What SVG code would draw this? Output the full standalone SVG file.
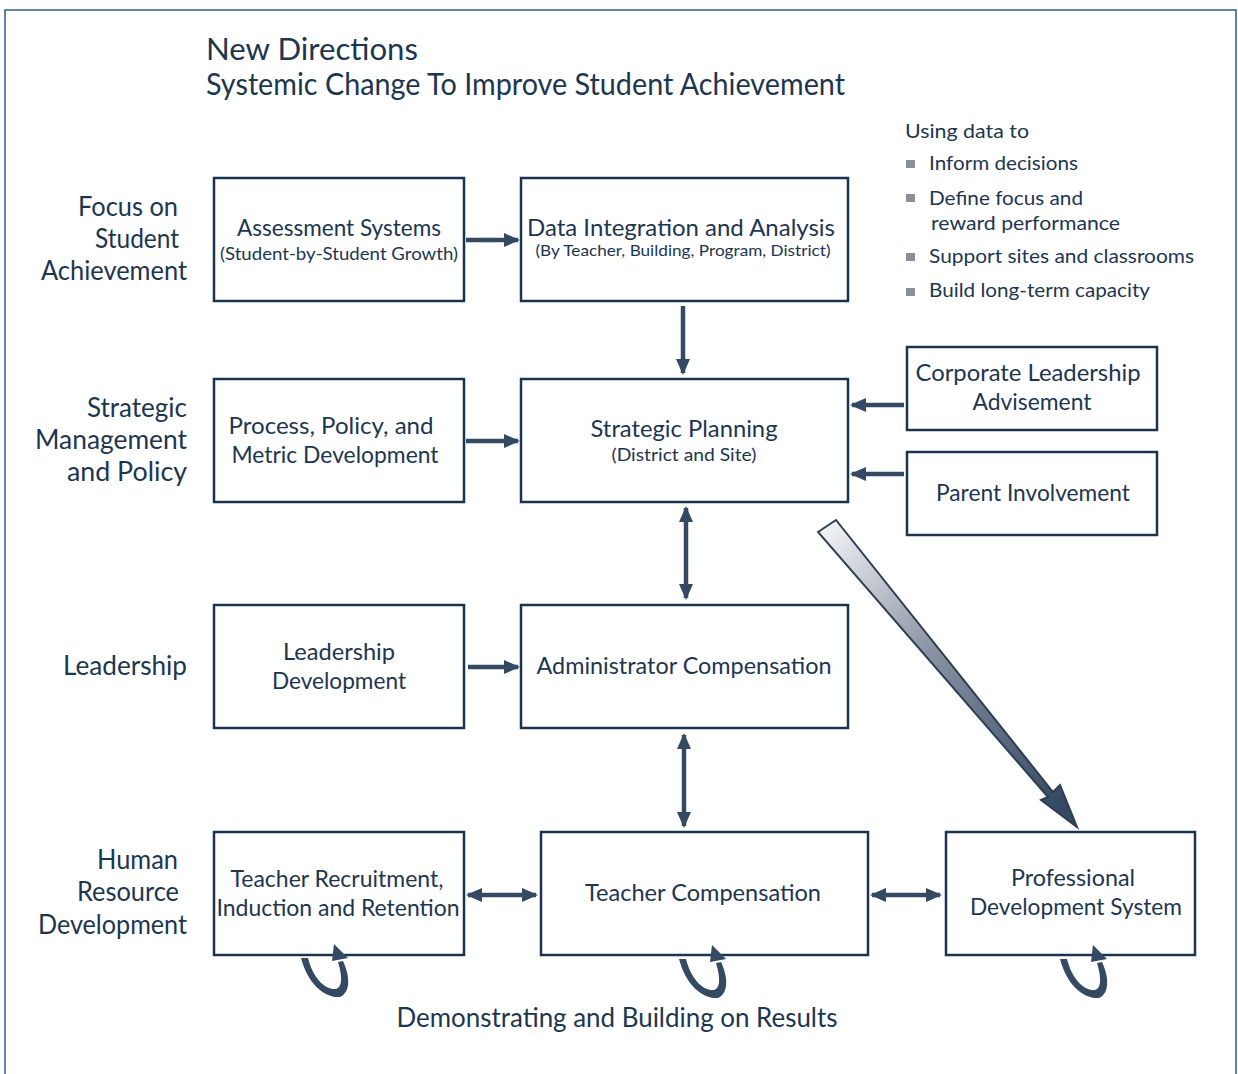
<svg xmlns="http://www.w3.org/2000/svg" width="1238" height="1074" viewBox="0 0 1238 1074">
  <style>
    text { font-family: Lato, "Liberation Sans", sans-serif; fill: #1d3650; }
    .title { font-size: 31px; }
    .side { font-size: 26px; }
    .main { font-size: 23px; }
    .sub { font-size: 18px; }
    .small { font-size: 16px; }
    .list { font-size: 20px; }
    .box { fill: #ffffff; stroke: #1a344f; stroke-width: 2.5; }
    .conn { stroke: #344a62; stroke-width: 4.5; fill: none; }
    .bullet { fill: #8a8f9a; }
    .loop { fill: #344a62; }
  </style>
  <defs>
    <marker id="head" viewBox="0 0 16 14" refX="14" refY="7" markerWidth="16" markerHeight="14" markerUnits="userSpaceOnUse" orient="auto-start-reverse">
      <path d="M0,0 L16,7 L0,14 Z" fill="#344a62"/>
    </marker>
    <linearGradient id="bigArrowFill" gradientUnits="userSpaceOnUse" x1="822" y1="528" x2="1060" y2="805">
      <stop offset="0" stop-color="#f2f3f6"/>
      <stop offset="0.45" stop-color="#8a93a4"/>
      <stop offset="1" stop-color="#344a62"/>
    </linearGradient>
    <!-- circular feedback arrow below a box -->
    <g id="cycle">
      <path class="loop" d="M301,958 C308,984 324,998 340,997 C351,992 350,976 343,961 L338,962 C342,975 343,987 336,989 C325,990 313,978 308,958 Z"/>
      <path class="loop" d="M334,944 L348,958 L332,961 Z"/>
    </g>
  </defs>

  <rect width="1238" height="1074" fill="#ffffff"/>
  <rect x="5" y="10" width="1231" height="1080" fill="none" stroke="#2f5b85" stroke-width="1.5"/>

  <!-- heading -->
  <text class="title" x="206" y="60" textLength="212" lengthAdjust="spacingAndGlyphs">New Directions</text>
  <text class="title" x="206" y="95" textLength="639" lengthAdjust="spacingAndGlyphs">Systemic Change To Improve Student Achievement</text>

  <!-- row labels -->
  <g id="label-focus">
    <text class="side" x="78" y="216" textLength="100" lengthAdjust="spacingAndGlyphs">Focus on</text>
    <text class="side" x="95" y="248" textLength="84" lengthAdjust="spacingAndGlyphs">Student</text>
    <text class="side" x="41" y="280" textLength="146" lengthAdjust="spacingAndGlyphs">Achievement</text>
  </g>
  <g id="label-strategic">
    <text class="side" x="87" y="417" textLength="100" lengthAdjust="spacingAndGlyphs">Strategic</text>
    <text class="side" x="35" y="449" textLength="152" lengthAdjust="spacingAndGlyphs">Management</text>
    <text class="side" x="67" y="481" textLength="120" lengthAdjust="spacingAndGlyphs">and Policy</text>
  </g>
  <g id="label-leadership">
    <text class="side" x="63" y="675" textLength="124" lengthAdjust="spacingAndGlyphs">Leadership</text>
  </g>
  <g id="label-hr">
    <text class="side" x="97" y="869" textLength="81" lengthAdjust="spacingAndGlyphs">Human</text>
    <text class="side" x="77" y="901" textLength="102" lengthAdjust="spacingAndGlyphs">Resource</text>
    <text class="side" x="38" y="934" textLength="149" lengthAdjust="spacingAndGlyphs">Development</text>
  </g>

  <!-- data use list -->
  <g id="data-use">
    <text class="list" x="905" y="138" textLength="124" lengthAdjust="spacingAndGlyphs">Using data to</text>
    <rect class="bullet" x="906" y="160" width="9" height="8"/>
    <text class="list" x="929" y="170" textLength="149" lengthAdjust="spacingAndGlyphs">Inform decisions</text>
    <rect class="bullet" x="906" y="194" width="9" height="8"/>
    <text class="list" x="929" y="205" textLength="154" lengthAdjust="spacingAndGlyphs">Define focus and</text>
    <text class="list" x="931" y="230" textLength="189" lengthAdjust="spacingAndGlyphs">reward performance</text>
    <rect class="bullet" x="906" y="253" width="9" height="8"/>
    <text class="list" x="929" y="263" textLength="265" lengthAdjust="spacingAndGlyphs">Support sites and classrooms</text>
    <rect class="bullet" x="906" y="288" width="9" height="8"/>
    <text class="list" x="929" y="297" textLength="221" lengthAdjust="spacingAndGlyphs">Build long-term capacity</text>
  </g>

  <!-- nodes -->
  <g id="assessment-systems">
    <rect class="box" x="214" y="178" width="250" height="123"/>
    <text class="main" x="339" y="236" text-anchor="middle" textLength="204" lengthAdjust="spacingAndGlyphs">Assessment Systems</text>
    <text class="sub" x="339" y="260" text-anchor="middle" textLength="238" lengthAdjust="spacingAndGlyphs">(Student-by-Student Growth)</text>
  </g>
  <g id="data-integration">
    <rect class="box" x="521" y="178" width="327" height="123"/>
    <text class="main" x="681" y="236" text-anchor="middle" textLength="308" lengthAdjust="spacingAndGlyphs">Data Integration and Analysis</text>
    <text class="small" x="683" y="256" text-anchor="middle" textLength="295" lengthAdjust="spacingAndGlyphs">(By Teacher, Building, Program, District)</text>
  </g>
  <g id="process-policy">
    <rect class="box" x="214" y="379" width="250" height="123"/>
    <text class="main" x="331" y="434" text-anchor="middle" textLength="205" lengthAdjust="spacingAndGlyphs">Process, Policy, and</text>
    <text class="main" x="335" y="463" text-anchor="middle" textLength="207" lengthAdjust="spacingAndGlyphs">Metric Development</text>
  </g>
  <g id="strategic-planning">
    <rect class="box" x="521" y="379" width="327" height="123"/>
    <text class="main" x="684" y="437" text-anchor="middle" textLength="187" lengthAdjust="spacingAndGlyphs">Strategic Planning</text>
    <text class="sub" x="684" y="461" text-anchor="middle" textLength="145" lengthAdjust="spacingAndGlyphs">(District and Site)</text>
  </g>
  <g id="corporate-leadership">
    <rect class="box" x="907" y="347" width="250" height="83"/>
    <text class="main" x="1028" y="381" text-anchor="middle" textLength="225" lengthAdjust="spacingAndGlyphs">Corporate Leadership</text>
    <text class="main" x="1032" y="410" text-anchor="middle" textLength="119" lengthAdjust="spacingAndGlyphs">Advisement</text>
  </g>
  <g id="parent-involvement">
    <rect class="box" x="907" y="452" width="250" height="83"/>
    <text class="main" x="1033" y="501" text-anchor="middle" textLength="194" lengthAdjust="spacingAndGlyphs">Parent Involvement</text>
  </g>
  <g id="leadership-development">
    <rect class="box" x="214" y="605" width="250" height="123"/>
    <text class="main" x="339" y="660" text-anchor="middle" textLength="112" lengthAdjust="spacingAndGlyphs">Leadership</text>
    <text class="main" x="339" y="689" text-anchor="middle" textLength="134" lengthAdjust="spacingAndGlyphs">Development</text>
  </g>
  <g id="administrator-compensation">
    <rect class="box" x="521" y="605" width="327" height="123"/>
    <text class="main" x="684" y="674" text-anchor="middle" textLength="295" lengthAdjust="spacingAndGlyphs">Administrator Compensation</text>
  </g>
  <g id="teacher-recruitment">
    <rect class="box" x="214" y="832" width="250" height="123"/>
    <text class="main" x="337" y="887" text-anchor="middle" textLength="213" lengthAdjust="spacingAndGlyphs">Teacher Recruitment,</text>
    <text class="main" x="338" y="916" text-anchor="middle" textLength="243" lengthAdjust="spacingAndGlyphs">Induction and Retention</text>
  </g>
  <g id="teacher-compensation">
    <rect class="box" x="541" y="832" width="327" height="123"/>
    <text class="main" x="703" y="901" text-anchor="middle" textLength="236" lengthAdjust="spacingAndGlyphs">Teacher Compensation</text>
  </g>
  <g id="professional-development">
    <rect class="box" x="946" y="832" width="249" height="123"/>
    <text class="main" x="1073" y="886" text-anchor="middle" textLength="124" lengthAdjust="spacingAndGlyphs">Professional</text>
    <text class="main" x="1076" y="915" text-anchor="middle" textLength="212" lengthAdjust="spacingAndGlyphs">Development System</text>
  </g>

  <!-- connectors -->
  <g id="connectors">
    <line class="conn" x1="466" y1="240" x2="518" y2="240" marker-end="url(#head)"/>
    <line class="conn" x1="683" y1="306" x2="683" y2="373" marker-end="url(#head)"/>
    <line class="conn" x1="466" y1="441" x2="518" y2="441" marker-end="url(#head)"/>
    <line class="conn" x1="904" y1="405" x2="852" y2="405" marker-end="url(#head)"/>
    <line class="conn" x1="904" y1="474" x2="852" y2="474" marker-end="url(#head)"/>
    <line class="conn" x1="686" y1="508" x2="686" y2="598" marker-start="url(#head)" marker-end="url(#head)"/>
    <line class="conn" x1="468" y1="667" x2="518" y2="667" marker-end="url(#head)"/>
    <line class="conn" x1="684" y1="735" x2="684" y2="826" marker-start="url(#head)" marker-end="url(#head)"/>
    <line class="conn" x1="468" y1="895" x2="536" y2="895" marker-start="url(#head)" marker-end="url(#head)"/>
    <line class="conn" x1="872" y1="895" x2="940" y2="895" marker-start="url(#head)" marker-end="url(#head)"/>
    <!-- tapered arrow toward professional development -->
    <path d="M818,532 L836,520 L1053,792 L1060,785 L1077,827 L1041,800 L1048,797 Z" fill="url(#bigArrowFill)" stroke="#2c3e52" stroke-width="2" stroke-linejoin="miter"/>
    <!-- feedback loops under the bottom row -->
    <use href="#cycle"/>
    <use href="#cycle" transform="translate(378,1)"/>
    <use href="#cycle" transform="translate(759,1)"/>
  </g>

  <text x="617" y="1027" text-anchor="middle" font-size="26" textLength="441" lengthAdjust="spacingAndGlyphs">Demonstrating and Building on Results</text>
</svg>
